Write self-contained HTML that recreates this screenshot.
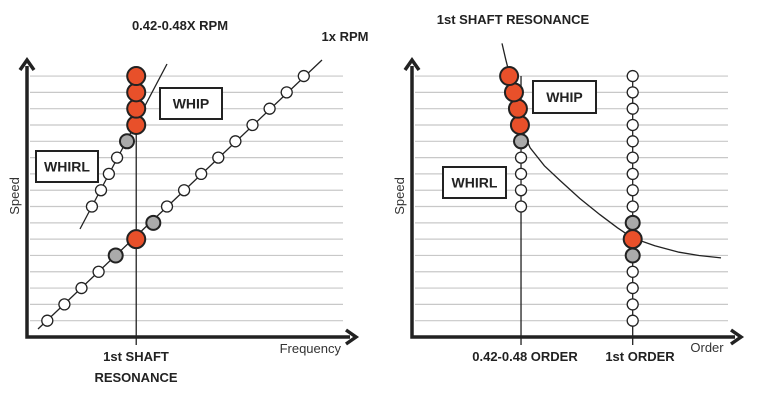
<!DOCTYPE html>
<html><head><meta charset="utf-8"><style>
html,body{margin:0;padding:0;background:#fff;}
svg{display:block;font-family:"Liberation Sans",sans-serif;}
.b{font-weight:bold;fill:#222;}
</style></head><body>
<svg id="c" width="765" height="405" viewBox="0 0 765 405" xmlns="http://www.w3.org/2000/svg"></svg>
<script>
const speedLevels = [0,1,2,3,4,5,6,7,8,9,10,11,12,13,14,15];
// Left chart: 1x RPM series
const rpmFreq = [0,1,2,3,4,5.2,6.2,7,8,9,10,11,12,13,14,15];
const rpmSpeed = [0,1,2,3,4,5,6,7,8,9,10,11,12,13,14,15];
const rpmType = ['w','w','w','w','g','o','g','w','w','w','w','w','w','w','w','w'];
// whirl / whip series
const whirlFreq = [2.61,3.14,3.6,4.08,4.66,5.2,5.2,5.2,5.2];
const whirlSpeed = [7,8,9,10,11,12,13,14,15];
const whirlType = ['w','w','w','w','g','o','o','o','o'];
// Right chart
const firstOrderSpeed = speedLevels;
const firstOrderType = ['w','w','w','w','g','o','g','w','w','w','w','w','w','w','w','w'];
const halfOrderSpeed = [7,8,9,10,11,12,13,14,15];
const halfOrderX = [0.494,0.494,0.494,0.494,0.494,0.489,0.48,0.462,0.44];
const halfOrderType = ['w','w','w','w','g','o','o','o','o'];
const resoCurveOrder = [0.408,0.425,0.444,0.465,0.489,0.535,0.6,0.67,0.76,0.852,0.93,1.0,1.1,1.21,1.3,1.4];
const resoCurveSpeed = [17,16,15,13.5,12,10.6,9.5,8.6,7.5,6.5,5.7,5.07,4.6,4.2,4.0,3.85];

const svg=document.getElementById('c');
const NS='http://www.w3.org/2000/svg';
function el(t,a,name){const e=document.createElementNS(NS,t);for(const k in a)e.setAttribute(k,a[k]);


svg.appendChild(e);return e;}
function yS(s){return 320.7-s*16.31;}
const C={w:['#fff',5.5],g:['#aaa',7],o:['#e8502a',9]};
function dot(x,y,t,name){el('circle',{cx:x,cy:y,r:C[t][1],fill:C[t][0],stroke:'#222','stroke-width':t==='w'?1.3:2},name);}
function axes(ox,p){
  for(const s of speedLevels){el('line',{x1:ox+30,x2:ox+343,y1:yS(s),y2:yS(s),stroke:'#c8c8c8','stroke-width':1.2},p+'gridline');}
  el('polyline',{points:`${ox+27},66 ${ox+27},337 ${ox+350},337`,fill:'none',stroke:'#222','stroke-width':3.5},p+'axes');
  el('path',{d:`M${ox+20},70 L${ox+27},60 L${ox+34},70`,fill:'none',stroke:'#222','stroke-width':3.5},p+'y-arrow');
  el('path',{d:`M${ox+346},330 L${ox+356},337 L${ox+346},344`,fill:'none',stroke:'#222','stroke-width':3.5},p+'x-arrow');
  const t=el('text',{x:0,y:0,'font-size':13,fill:'#333',transform:`translate(${ox+19},${196}) rotate(-90)`,'text-anchor':'middle'},p+'y-axis-title');t.textContent='Speed';
}
function txt(x,y,s,name,opt){const t=el('text',Object.assign({x:x,y:y,'font-size':13,'class':'b','text-anchor':'middle'},opt||{}),name);t.textContent=s;return t;}
function box(x,y,w,h,s,name){el('rect',{x:x,y:y,width:w,height:h,fill:'#fff',stroke:'#222','stroke-width':2},name+'-box');txt(x+w/2,y+h/2+5,s,name+'-label',{'font-size':14});}

// LEFT
axes(0,'left-');
const fx=f=>47.3+f*17.1;
el('line',{x1:38,y1:329,x2:322,y2:60,stroke:'#222','stroke-width':1.3},'rpm-1x-line');
el('line',{x1:80,y1:229,x2:167,y2:64,stroke:'#222','stroke-width':1.3},'whirl-line');
el('line',{x1:fx(5.2),y1:76,x2:fx(5.2),y2:345,stroke:'#222','stroke-width':1.3},'shaft-resonance-line');
for(let i=0;i<rpmFreq.length;i++)dot(fx(rpmFreq[i]),yS(rpmSpeed[i]),rpmType[i],'rpm-1x-point');
for(let i=0;i<whirlFreq.length;i++)dot(fx(whirlFreq[i]),yS(whirlSpeed[i]),whirlType[i],'whirl-point');
box(160,88,62,31,'WHIP','left-whip');
box(36,151,62,31,'WHIRL','left-whirl');
txt(180,30,'0.42-0.48X RPM','left-title-subsync');
txt(345,41,'1x RPM','left-title-1x');
txt(136,361,'1st SHAFT','resonance-label-1');
txt(136,382,'RESONANCE','resonance-label-2');
const fr=el('text',{x:341,y:353,'font-size':13,fill:'#333','text-anchor':'end'},'x-axis-title-frequency');fr.textContent='Frequency';

// RIGHT
const R=385;
axes(R,'right-');
const ox=o=>R+27+o*220.7;
el('path',{d:resoCurveOrder.map((o,i)=>(i?'L':'M')+ox(o).toFixed(1)+','+yS(resoCurveSpeed[i]).toFixed(1)).join(' '),fill:'none',stroke:'#222','stroke-width':1.3},'resonance-curve');
el('line',{x1:ox(0.494),y1:76,x2:ox(0.494),y2:345,stroke:'#222','stroke-width':1.3},'half-order-line');
el('line',{x1:ox(1),y1:76,x2:ox(1),y2:345,stroke:'#222','stroke-width':1.3},'first-order-line');
for(let i=0;i<firstOrderSpeed.length;i++)dot(ox(1),yS(firstOrderSpeed[i]),firstOrderType[i],'first-order-point');
for(let i=0;i<halfOrderSpeed.length;i++)dot(ox(halfOrderX[i]),yS(halfOrderSpeed[i]),halfOrderType[i],'half-order-point');
box(533,81,63,32,'WHIP','right-whip');
box(443,167,63,31,'WHIRL','right-whirl');
txt(513,24,'1st SHAFT RESONANCE','right-title');
txt(525,361,'0.42-0.48 ORDER','half-order-label');
txt(640,361,'1st ORDER','first-order-label');
const or=el('text',{x:707,y:352,'font-size':13,fill:'#333','text-anchor':'middle'},'x-axis-title-order');or.textContent='Order';
</script>
</body></html>
